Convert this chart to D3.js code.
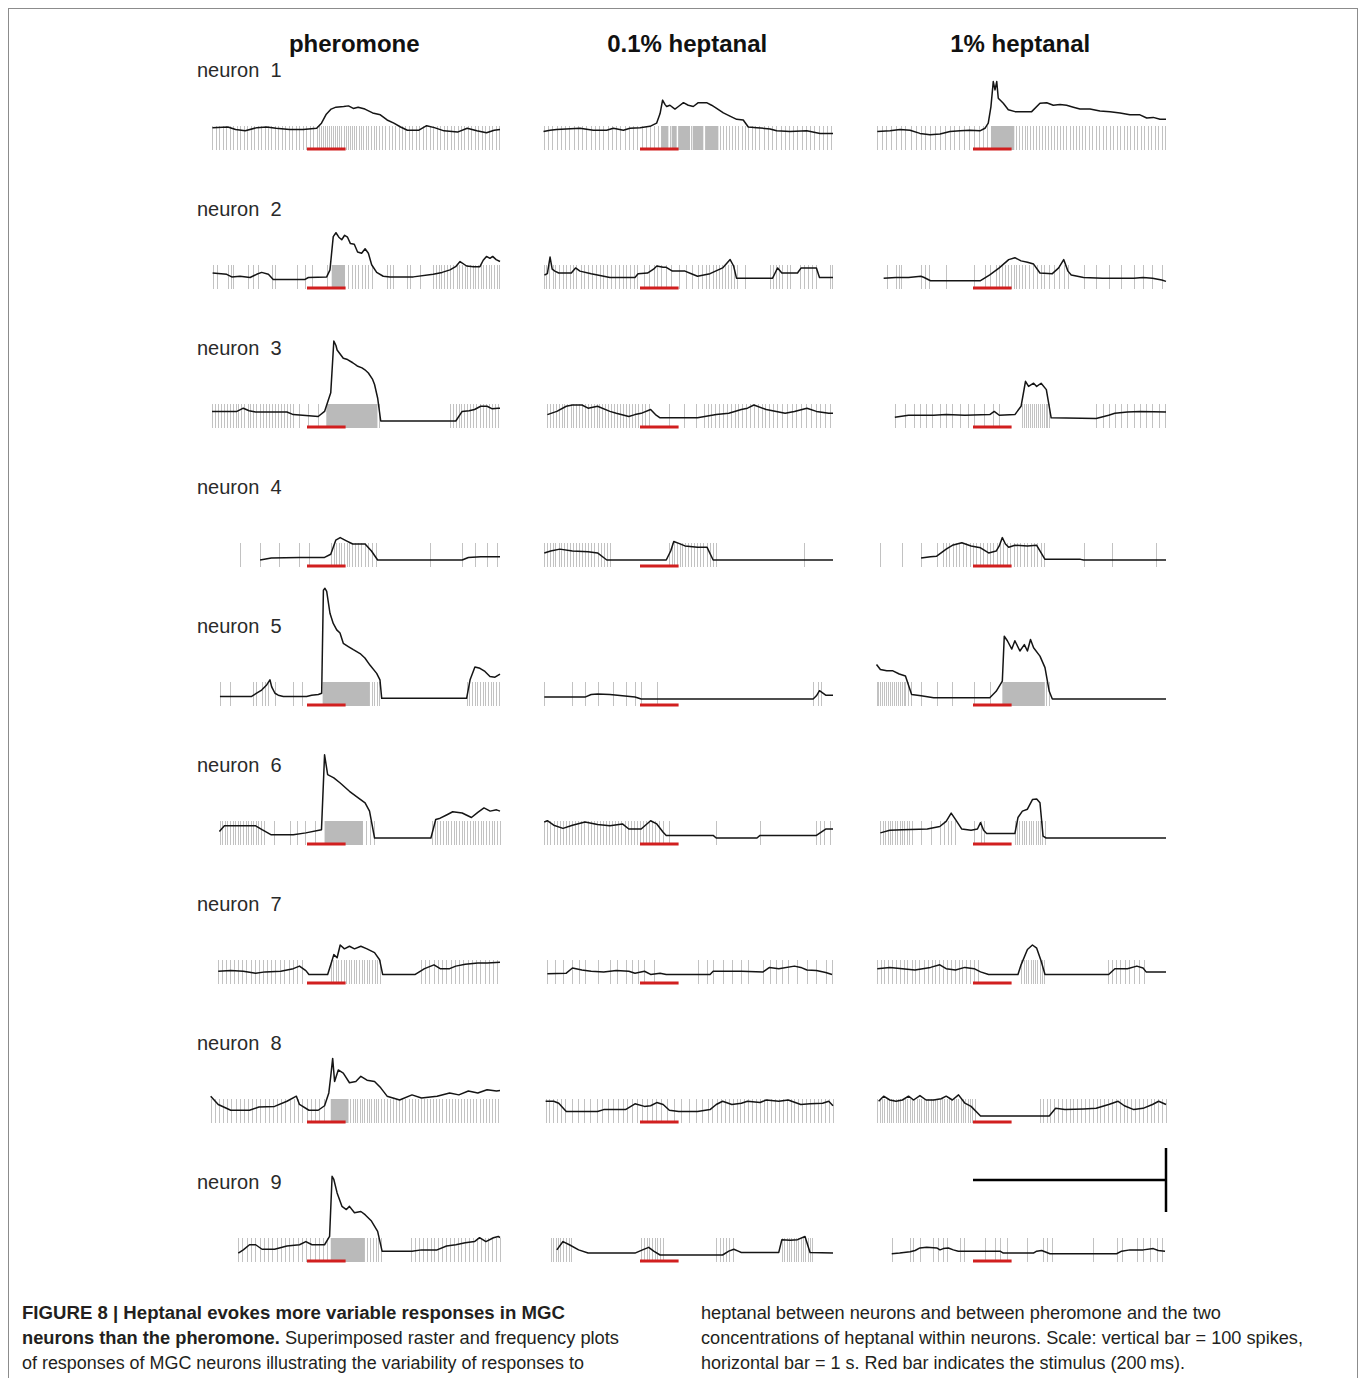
<!DOCTYPE html>
<html>
<head>
<meta charset="utf-8">
<script src="https://cdn.jsdelivr.net/npm/d3@7"></script>
<style>
  html, body { margin: 0; padding: 0; background: #fff; }
  svg { display: block; }
  text { font-family: "Liberation Sans", Arial, Helvetica, sans-serif; }
</style>
</head>
<body>
<svg id="fig" width="1360" height="1378"></svg>
<script>
// ---- stimuli (columns) and neurons (rows) ----
const odors = ["pheromone", "0.1% heptanal", "1% heptanal"];
const neuronLabels = ["neuron  1", "neuron  2", "neuron  3", "neuron  4", "neuron  5",
                      "neuron  6", "neuron  7", "neuron  8", "neuron  9"];
const timeWindow = [-500, 1000];   // ms around stimulus onset
const stimulusWindow = [0, 200];   // ms
const scaleBarTime = 1000;         // ms  (1 s)
const scaleBarSpikes = 100;        // spikes

// ---- spike times (ms), one list per stimulus: pheromone, 0.1 %, 1 % ----
const spikes1 = [
  [-490,-472,-455,-437,-418,-400,-383,-364,-346,-329,-310,-292,-275,-256,-238,-220,-203,-185,-166,-148,-130,-112,-95,-77,-58,-40,-22,-4,14,32,50,62,72,84,93,104,115,124,136,146,157,168,178,190,200,212,222,234,245,256,268,280,292,305,318,332,346,360,375,390,406,423,440,458,475,493,510,528,546,564,582,600,618,636,654,672,690,708,726,744,762,780,798,816,834,852,870,888,906,924,942,960,978,996],
  [-498,-476,-455,-432,-410,-388,-366,-344,-322,-300,-278,-256,-234,-212,-190,-168,-146,-124,-102,-80,-58,-36,-14,8,30,52,74,94,155,196,265,335,415,430,446,462,478,494,510,526,542,558,578,598,618,640,662,684,706,728,750,772,794,816,838,860,882,904,926,948,970,992],
  [-496,-474,-450,-425,-400,-372,-350,-322,-296,-270,-248,-222,-196,-170,-146,-120,-96,-70,-46,-20,4,30,52,72,225,238,252,268,282,296,312,326,342,356,372,388,404,420,436,452,468,484,500,516,532,548,564,582,600,618,636,654,672,690,708,726,744,762,780,798,816,834,852,870,888,906,924,942,960,978,996]
];
const spikes2 = [
  [-485,-468,-408,-396,-382,-304,-278,-252,-183,-166,-54,-10,24,102,214,231,249,266,283,300,318,335,413,430,447,516,534,585,655,668,682,696,710,724,741,758,775,789,803,817,831,845,858,872,886,900,914,927,941,955,969,983,996],
  [-495,-485,-470,-452,-438,-420,-400,-385,-362,-345,-330,-305,-290,-270,-250,-228,-205,-190,-170,-150,-130,-110,-90,-70,-50,-30,-15,20,45,70,90,110,135,160,200,240,270,300,320,340,360,380,395,410,425,440,455,470,485,500,544,674,690,705,720,735,760,777,830,850,870,890,910,985,997],
  [-447,-399,-386,-373,-269,-249,-230,-139,6,62,87,120,135,150,165,180,195,210,225,240,255,270,290,310,330,350,370,395,420,445,470,490,573,638,703,768,833,881,930,978]
];
const spikes3 = [
  [-492,-478,-462,-447,-432,-416,-401,-385,-370,-355,-340,-324,-308,-293,-278,-262,-246,-230,-214,-198,-182,-166,-150,-134,-118,-102,-86,-70,-40,5,55,375,740,755,770,786,800,815,830,846,862,878,894,910,926,942,958,974,990],
  [-480,-465,-450,-436,-420,-405,-392,-376,-360,-345,-330,-316,-300,-285,-270,-255,-240,-225,-210,-195,-180,-165,-150,-135,-120,-105,-88,-72,-56,-40,-24,-8,10,28,45,150,230,290,330,350,370,390,410,430,450,470,490,510,530,550,570,590,610,630,650,670,690,712,735,760,785,810,835,860,885,910,935,960,985],
  [-405,-350,-308,-275,-243,-211,-172,-139,-107,-68,-26,6,55,104,136,256,266,276,286,296,306,316,326,336,346,356,366,376,386,395,638,671,703,735,768,800,833,865,897,930,962,995]
];
const spikes4 = [
  [-347,-243,-143,-39,10,125,140,152,165,178,190,205,220,235,250,265,282,300,318,336,355,635,804,868,933,982],
  [-496,-482,-468,-452,-438,-422,-408,-392,-378,-362,-346,-330,-315,-300,-284,-268,-252,-236,-220,-204,-188,-172,-156,152,165,178,190,205,220,235,250,265,280,296,312,328,345,362,378,395,849],
  [-480,-366,-269,-188,-156,-140,-122,-105,-88,-70,-52,-35,-18,0,18,35,52,70,88,105,122,140,158,175,192,210,228,245,262,280,298,315,332,350,368,573,719,946]
];
const spikes5 = [
  [-451,-399,-278,-264,-235,-218,-200,-166,-71,-28,335,347,361,375,827,841,855,869,882,896,910,924,938,952,965,979,993],
  [-496,-350,-285,-220,-139,-75,-26,6,87,897,920,940],
  [-500,-490,-480,-470,-460,-450,-440,-430,-420,-410,-400,-390,-380,-370,-360,-350,-335,-320,-269,-188,-107,6,87,380,395]
];
const spikes6 = [
  [-451,-438,-425,-412,-398,-385,-372,-358,-345,-332,-318,-305,-292,-278,-265,-252,-238,-225,-170,-90,-52,-10,40,305,325,345,648,662,676,690,704,718,732,746,760,774,788,802,816,830,844,858,872,886,900,914,928,942,956,970,984,998],
  [-496,-480,-464,-448,-432,-416,-400,-384,-368,-352,-336,-320,-304,-288,-272,-256,-240,-224,-208,-192,-176,-160,-144,-128,-112,-96,-80,-64,-48,-32,-16,0,16,32,48,64,80,100,120,150,395,622,914,935,955,985],
  [-480,-468,-455,-442,-430,-418,-405,-392,-380,-368,-355,-342,-330,-318,-270,-220,-172,-150,-130,-113,-95,6,39,55,217,228,240,252,264,276,288,300,312,324,336,348,360,372]
];
const spikes7 = [
  [-460,-440,-420,-398,-378,-355,-335,-315,-292,-270,-250,-228,-206,-185,-165,-140,-118,-95,-72,-50,-28,123,137,150,163,176,190,203,216,230,243,256,270,283,296,310,323,336,350,363,376,590,612,634,656,678,700,722,744,766,788,810,832,854,876,898,920,942,964,986],
  [-480,-441,-399,-350,-318,-285,-220,-156,-117,-75,-42,-10,23,71,298,347,379,428,476,525,557,638,671,703,735,768,816,865,914,962,995],
  [-496,-478,-460,-440,-420,-400,-380,-360,-340,-318,-298,-278,-255,-235,-215,-195,-175,-155,-135,-115,-95,-75,-55,-35,-15,5,25,250,262,274,286,298,310,322,334,346,358,370,700,720,740,760,785,810,835,860,885]
];
const spikes8 = [
  [-499,-478,-456,-435,-414,-392,-370,-349,-327,-306,-284,-262,-241,-220,-198,-176,-155,-134,-112,-90,-68,-46,-24,-2,20,42,64,86,225,237,249,261,273,285,297,309,321,333,345,357,369,382,398,414,430,446,462,478,494,510,526,542,558,574,590,606,622,638,654,670,686,702,718,734,750,766,782,798,814,830,846,862,878,894,910,926,942,958,974,990],
  [-489,-470,-450,-430,-410,-390,-350,-320,-290,-260,-225,-195,-165,-140,-115,-90,-65,-40,-15,10,35,60,85,110,140,175,215,255,290,320,350,375,400,420,440,460,480,500,520,540,560,580,600,620,640,660,680,700,720,740,760,780,800,820,840,860,880,900,920,940,960,980,1000],
  [-496,-484,-472,-460,-448,-436,-424,-412,-400,-388,-376,-364,-352,-340,-328,-316,-304,-292,-280,-268,-256,-244,-232,-220,-208,-196,-184,-172,-160,-148,-136,-124,-112,-100,-88,-76,-64,-52,-40,-28,-16,-4,8,347,365,383,401,420,440,460,480,500,520,540,560,580,600,620,640,660,680,700,720,740,760,780,800,820,840,860,880,900,920,940,960,980,1000]
];
const spikes9 = [
  [-356,-335,-312,-290,-268,-246,-224,-202,-180,-158,-136,-114,-92,-70,-48,-26,-4,18,40,62,84,106,310,325,340,355,370,385,540,560,580,600,620,640,660,680,700,720,740,760,780,800,820,840,860,880,900,920,940,960,980,1000],
  [-463,-450,-437,-425,-412,-400,-385,-370,-355,6,20,34,48,62,76,90,104,118,395,415,430,445,460,480,735,748,760,772,784,796,808,820,832,844,856,868,880,892],
  [-421,-326,-309,-275,-206,-180,-154,-133,-67,-47,62,114,140,174,278,364,382,408,623,744,770,848,882,917,952,977]
];

// ---- spans (ms) where superimposed spikes merge into a solid band ----
const bursts1 = [[], [[109,147],[164,190],[202,259],[273,328],[342,406]], [[93,214]]];
const bursts2 = [[[128,197]], [], []];
const bursts3 = [[[100,365]], [], []];
const bursts4 = [[], [], []];
const bursts5 = [[[81,326]], [], [[152,372]]];
const bursts6 = [[[91,290]], [], []];
const bursts7 = [[], [], []];
const bursts8 = [[[123,215]], [], []];
const bursts9 = [[[123,300]], [], []];

// ---- firing-frequency traces: [time ms, spikes] ----
const rate1 = [
  [[-490,24],[-410,25],[-370,21],[-320,19],[-260,24],[-210,25],[-160,23],[-90,21],[-20,21],[50,23],[75,31],[100,45],[125,53],[150,56],[190,57],[215,58],[240,54],[265,56],[300,53],[340,47],[380,44],[415,36],[450,31],[485,25],[520,20],[580,20],[620,27],[660,24],[710,19],[780,17],[830,23],[880,19],[930,16],[970,20],[1000,21]],
  [[-500,18],[-466,20],[-432,21],[-311,23],[-242,20],[-173,20],[-138,23],[-86,20],[-52,23],[0,24],[52,26],[86,31],[104,46],[117,67],[130,60],[138,57],[155,59],[181,53],[199,57],[225,63],[250,59],[276,57],[302,63],[345,63],[371,59],[397,54],[432,47],[466,42],[501,37],[535,36],[561,25],[605,24],[674,22],[708,19],[777,18],[864,19],[933,15],[1000,15]],
  [[-496,18],[-430,19],[-378,21],[-326,20],[-275,15],[-223,13],[-171,14],[-119,18],[-67,19],[-16,20],[36,19],[62,23],[79,31],[93,57],[105,96],[114,83],[123,96],[131,70],[157,62],[183,52],[218,49],[261,49],[304,49],[347,62],[382,63],[416,59],[451,60],[485,59],[520,56],[554,53],[606,53],[658,50],[710,49],[762,47],[813,44],[865,44],[900,39],[934,40],[969,37],[1000,37]]
];
const rate2 = [
  [[-489,14],[-416,12],[-390,8],[-347,9],[-295,7],[-261,12],[-235,15],[-200,12],[-175,4],[-88,4],[-10,4],[7,7],[102,8],[119,19],[136,71],[150,77],[165,70],[180,66],[195,73],[210,70],[225,60],[245,59],[262,47],[283,45],[301,52],[318,45],[335,27],[361,15],[395,9],[430,8],[551,8],[654,12],[700,15],[741,19],[770,24],[793,32],[827,25],[862,24],[896,24],[913,34],[930,40],[948,37],[962,40],[980,35],[1000,32]],
  [[-495,11],[-480,13],[-466,39],[-455,20],[-441,17],[-421,14],[-356,14],[-334,22],[-311,17],[-253,13],[-188,9],[-156,7],[-26,7],[-10,13],[39,14],[70,20],[87,25],[120,23],[136,23],[168,17],[233,17],[266,13],[298,9],[363,13],[428,22],[467,35],[485,25],[500,6],[622,6],[687,6],[700,14],[713,22],[735,14],[816,14],[835,22],[914,22],[930,7],[1000,7]],
  [[-463,6],[-400,7],[-334,7],[-270,9],[-253,7],[-220,2],[-139,2],[-10,2],[39,2],[87,11],[136,22],[185,35],[217,38],[249,33],[282,31],[314,28],[347,14],[411,13],[444,22],[470,35],[492,17],[509,11],[573,7],[671,6],[833,6],[881,7],[930,6],[978,3],[1000,1]]
];
const rate3 = [
  [[-492,15],[-400,15],[-363,15],[-330,20],[-300,16],[-266,14],[-104,14],[-71,10],[58,7],[91,15],[123,44],[139,125],[150,118],[156,111],[188,98],[210,96],[237,91],[260,86],[285,83],[300,80],[318,75],[340,65],[350,57],[366,36],[382,0],[739,0],[771,0],[804,15],[840,16],[868,18],[900,23],[933,23],[960,19],[990,20],[1000,20]],
  [[-480,10],[-431,15],[-382,23],[-350,25],[-301,25],[-269,20],[-220,23],[-156,15],[-123,12],[-58,7],[-26,10],[6,12],[55,18],[80,10],[104,5],[298,5],[395,10],[460,12],[525,18],[557,20],[590,25],[654,18],[752,12],[800,15],[865,20],[914,15],[978,12],[1000,12]],
  [[-405,6],[-334,9],[-204,9],[-139,10],[-42,9],[87,10],[110,15],[136,9],[217,10],[249,23],[265,50],[272,62],[288,54],[314,59],[330,54],[353,59],[380,49],[405,5],[638,4],[703,9],[735,12],[800,14],[865,15],[1000,14]]
];
const rate4 = [
  [[-243,0],[-185,3],[-39,4],[91,4],[123,9],[149,31],[172,35],[204,30],[237,25],[301,25],[334,14],[366,0],[804,0],[836,4],[901,5],[1000,5]],
  [[-496,11],[-463,14],[-415,17],[-350,14],[-269,13],[-220,11],[-172,0],[136,0],[159,14],[175,29],[201,26],[233,22],[298,20],[347,20],[379,0],[1000,0]],
  [[-269,3],[-220,5],[-188,6],[-139,17],[-107,23],[-58,27],[-10,22],[39,19],[81,11],[120,14],[136,22],[152,35],[168,25],[185,20],[217,23],[282,22],[330,23],[373,1],[557,1],[573,0],[1000,0]]
];
const rate5 = [
  [[-451,4],[-287,4],[-261,9],[-235,14],[-209,22],[-192,30],[-183,19],[-166,9],[-149,6],[-123,4],[-2,4],[24,6],[59,7],[76,9],[85,170],[93,173],[102,168],[119,134],[136,118],[154,108],[171,103],[188,87],[214,82],[240,77],[275,71],[300,64],[326,53],[361,40],[378,30],[387,1],[827,1],[845,30],[870,50],[896,48],[922,43],[948,35],[974,34],[1000,39]],
  [[-496,3],[-285,3],[-253,7],[-220,8],[-156,7],[-91,5],[-26,3],[6,0],[897,0],[914,5],[930,13],[962,6],[1000,6]],
  [[-500,54],[-480,46],[-447,44],[-415,44],[-382,39],[-350,36],[-318,7],[-269,5],[-204,2],[87,2],[120,12],[152,28],[162,98],[178,91],[201,78],[217,91],[243,75],[266,85],[282,75],[298,93],[314,80],[347,67],[373,49],[395,12],[411,0],[1000,0]]
];
const rate6 = [
  [[-454,10],[-428,19],[-266,19],[-233,13],[-185,5],[-71,5],[-6,8],[75,13],[91,130],[107,99],[139,94],[172,86],[220,73],[269,62],[301,55],[324,42],[350,0],[642,0],[667,29],[690,31],[723,36],[755,41],[804,39],[852,32],[885,40],[917,47],[949,42],[982,44],[1000,42]],
  [[-496,25],[-480,27],[-447,20],[-399,15],[-350,20],[-285,25],[-220,21],[-156,19],[-91,22],[-58,14],[6,14],[55,27],[87,22],[120,9],[136,4],[379,4],[395,0],[606,0],[622,4],[914,4],[962,14],[1000,14]],
  [[-480,8],[-431,12],[-366,13],[-237,14],[-172,18],[-139,26],[-113,39],[-91,29],[-58,14],[-10,12],[23,14],[39,24],[55,12],[71,7],[217,7],[233,32],[256,42],[282,45],[308,60],[330,61],[347,55],[363,3],[379,0],[1000,0]]
];
const rate7 = [
  [[-460,9],[-395,10],[-330,9],[-266,6],[-217,8],[-136,9],[-71,13],[-39,17],[-6,10],[10,4],[107,4],[123,19],[139,35],[156,30],[172,50],[194,44],[220,48],[246,44],[279,48],[311,44],[350,38],[376,27],[392,4],[561,4],[609,13],[658,19],[690,13],[739,13],[771,17],[820,20],[885,22],[933,22],[1000,23]],
  [[-480,5],[-382,6],[-350,14],[-301,11],[-253,9],[-188,8],[-123,10],[-58,9],[-26,6],[23,9],[55,4],[104,6],[136,4],[363,4],[379,9],[428,9],[525,9],[638,8],[671,15],[719,13],[800,17],[833,15],[865,11],[914,10],[962,7],[995,4]],
  [[-496,13],[-431,15],[-366,13],[-301,11],[-220,15],[-172,19],[-139,13],[-91,11],[-42,15],[6,13],[39,8],[81,4],[233,4],[249,19],[282,43],[308,50],[330,45],[353,25],[373,4],[703,4],[735,13],[800,13],[849,17],[881,14],[897,8],[1000,8]]
];
const rate8 = [
  [[-499,31],[-460,18],[-395,9],[-298,9],[-249,14],[-168,15],[-104,23],[-55,31],[-39,18],[10,9],[58,9],[91,16],[113,36],[123,62],[133,90],[143,54],[162,72],[188,67],[220,52],[253,54],[279,62],[311,56],[350,54],[382,44],[415,31],[480,25],[544,33],[593,28],[674,31],[739,36],[787,33],[836,39],[885,36],[933,41],[982,39],[1000,40]],
  [[-489,23],[-447,23],[-421,20],[-382,7],[-220,7],[-188,10],[-75,10],[-26,19],[23,15],[55,16],[87,21],[120,18],[152,9],[201,7],[298,7],[363,10],[395,18],[428,23],[476,18],[525,20],[557,23],[622,21],[654,25],[719,23],[768,25],[833,18],[881,19],[946,20],[978,23],[1000,16]],
  [[-489,23],[-463,31],[-431,25],[-399,23],[-366,25],[-334,31],[-308,25],[-275,32],[-243,25],[-204,25],[-165,27],[-139,31],[-107,25],[-75,33],[-42,20],[-10,15],[39,0],[395,0],[428,12],[476,10],[573,11],[638,12],[703,18],[752,23],[784,16],[833,10],[881,12],[930,18],[962,23],[1000,18]]
];
const rate9 = [
  [[-356,3],[-330,8],[-298,16],[-266,16],[-233,9],[-168,9],[-104,14],[-39,16],[-6,21],[26,16],[91,16],[117,29],[130,123],[139,118],[156,97],[181,76],[204,71],[220,76],[246,66],[279,68],[301,63],[334,53],[366,37],[389,6],[544,6],[593,8],[674,8],[723,14],[771,16],[820,19],[868,21],[894,27],[927,21],[966,27],[991,29],[1000,27]],
  [[-431,8],[-399,21],[-366,16],[-318,8],[-269,3],[-26,3],[13,8],[45,12],[71,6],[104,0],[428,0],[460,6],[486,9],[509,6],[525,4],[719,4],[735,24],[778,23],[816,24],[855,29],[881,4],[1000,3]],
  [[-421,2],[-380,3],[-326,5],[-300,7],[-275,11],[-240,12],[-188,11],[-171,8],[-154,10],[-128,11],[-102,8],[-76,6],[19,6],[140,6],[157,3],[313,3],[330,6],[356,7],[399,2],[744,2],[770,6],[813,8],[882,8],[934,10],[960,7],[995,6]]
];

const spikeRows = [spikes1, spikes2, spikes3, spikes4, spikes5, spikes6, spikes7, spikes8, spikes9];
const burstRows = [bursts1, bursts2, bursts3, bursts4, bursts5, bursts6, bursts7, bursts8, bursts9];
const rateRows  = [rate1, rate2, rate3, rate4, rate5, rate6, rate7, rate8, rate9];

// ---- layout ----
const W = 1360, H = 1378;
const colLeft = [210.5, 543.5, 876.5];   // x of -500 ms in each column
const colWidth = 289.5;                  // 1.5 s at 193 px/s
const rowY = i => 149 + 139 * i;         // y of stimulus bar in each row
const rasterTop = -23, rasterBottom = 1; // relative to stimulus bar
const zeroOffset = -6;                   // zero of frequency trace relative to stimulus bar
const pxPer100 = 64;                     // vertical size of 100 spikes

const svg = d3.select("#fig").attr("width", W).attr("height", H);

// outer frame
svg.append("rect")
  .attr("x", 8.5).attr("y", 8.5)
  .attr("width", 1349).attr("height", H + 20)
  .attr("fill", "none").attr("stroke", "#8c8c8c").attr("stroke-width", 1);

// column headings
odors.forEach((name, j) => {
  svg.append("text")
    .attr("x", colLeft[j] + colWidth / 2 - 1)
    .attr("y", 52)
    .attr("text-anchor", "middle")
    .attr("font-size", 24).attr("font-weight", "bold")
    .attr("fill", "#111")
    .text(name);
});

// neuron labels
neuronLabels.forEach((lab, i) => {
  svg.append("text")
    .attr("x", 197).attr("y", rowY(i) - 72)
    .attr("font-size", 20).attr("fill", "#2a2a2a")
    .style("white-space", "pre")
    .text(lab);
});

const xScales = colLeft.map(l => d3.scaleLinear().domain(timeWindow).range([l, l + colWidth]));

neuronLabels.forEach((_, i) => {
  const base = rowY(i);
  const y = d3.scaleLinear().domain([0, 100]).range([base + zeroOffset, base + zeroOffset - pxPer100]);
  odors.forEach((__, j) => {
    const x = xScales[j];
    const g = svg.append("g").attr("class", "panel");

    // merged raster bands
    g.selectAll("rect.band").data(burstRows[i][j]).join("rect")
      .attr("class", "band")
      .attr("x", d => x(d[0])).attr("width", d => x(d[1]) - x(d[0]))
      .attr("y", base + rasterTop).attr("height", rasterBottom - rasterTop)
      .attr("fill", "#bababa");

    // raster ticks
    g.selectAll("line.spike").data(spikeRows[i][j]).join("line")
      .attr("class", "spike")
      .attr("x1", d => Math.round(x(d)) + 0.5).attr("x2", d => Math.round(x(d)) + 0.5)
      .attr("y1", base + rasterTop).attr("y2", base + rasterBottom)
      .attr("stroke", "#c2c2c2").attr("stroke-width", 1)
      .attr("shape-rendering", "crispEdges");

    // stimulus bar
    g.append("line")
      .attr("x1", x(stimulusWindow[0])).attr("x2", x(stimulusWindow[1]))
      .attr("y1", base).attr("y2", base)
      .attr("stroke", "#d11f1f").attr("stroke-width", 3);

    // frequency trace
    g.append("path")
      .datum(rateRows[i][j])
      .attr("d", d3.line().x(d => x(d[0])).y(d => y(d[1])))
      .attr("fill", "none").attr("stroke", "#151515").attr("stroke-width", 1.5)
      .attr("stroke-linejoin", "round");
  });
});

// scale bar: 1 s horizontal, 100 spikes vertical
{
  const x = xScales[2];
  const yb = d3.scaleLinear().domain([0, scaleBarSpikes]).range([1212, 1212 - pxPer100]);
  svg.append("line")
    .attr("x1", x(0)).attr("x2", x(scaleBarTime))
    .attr("y1", yb(scaleBarSpikes / 2)).attr("y2", yb(scaleBarSpikes / 2))
    .attr("stroke", "#000").attr("stroke-width", 2.5);
  svg.append("line")
    .attr("x1", x(scaleBarTime)).attr("x2", x(scaleBarTime))
    .attr("y1", yb(0)).attr("y2", yb(scaleBarSpikes))
    .attr("stroke", "#000").attr("stroke-width", 2.5);
}

// caption
const captionLeft = [
  { parts: [["FIGURE 8 | Heptanal evokes more variable responses in MGC", true]], width: 543 },
  { parts: [["neurons than the pheromone.", true], [" Superimposed raster and frequency plots", false]], width: 597 },
  { parts: [["of responses of MGC neurons illustrating the variability of responses to", false]], width: 562 }
];
const captionRight = [
  { parts: [["heptanal between neurons and between pheromone and the two", false]], width: 520 },
  { parts: [["concentrations of heptanal within neurons. Scale: vertical bar = 100 spikes,", false]], width: 602 },
  { parts: [["horizontal bar = 1 s. Red bar indicates the stimulus (200\u2009ms).", false]], width: 484 }
];
function caption(lines, x0) {
  lines.forEach((ln, k) => {
    const t = svg.append("text")
      .attr("x", x0).attr("y", 1319 + 25 * k)
      .attr("font-size", 17.5).attr("fill", "#231f20")
      .style("white-space", "pre")
      .attr("textLength", ln.width).attr("lengthAdjust", "spacingAndGlyphs");
    ln.parts.forEach(([s, bold]) => {
      t.append("tspan").attr("font-weight", bold ? "bold" : "normal").text(s);
    });
  });
}
caption(captionLeft, 22);
caption(captionRight, 701);
</script>
</body>
</html>
